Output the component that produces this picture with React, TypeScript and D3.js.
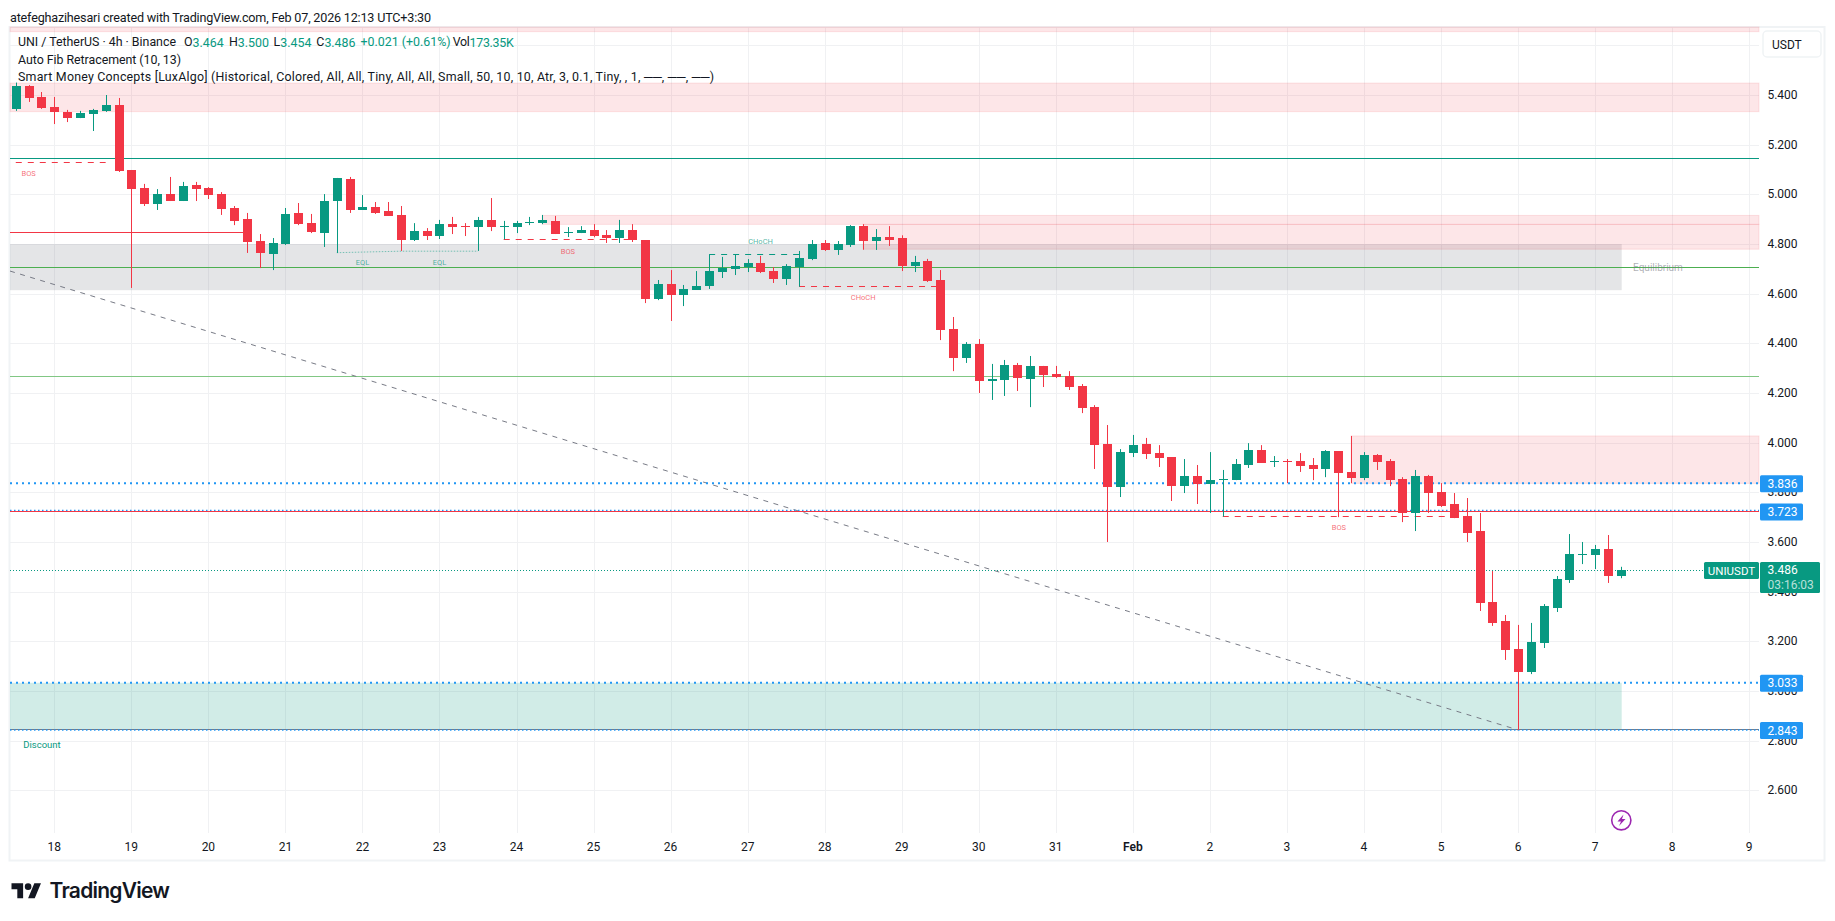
import React from "react";
import * as d3 from "d3";

// ── Data ──────────────────────────────────────────────────────────────────────

// 4h bars, bar 0 is the first one on screen (three bars before Jan 18)
const opens = [
  5.344, 5.436, 5.392, 5.352, 5.332, 5.307, 5.323, 5.336, 5.36, 5.098, 5.025, 4.961, 5.001, 4.973, 5.038, 5.025, 5.001, 4.945, 4.901, 4.812, 4.76,
  4.8, 4.925, 4.884, 4.844, 4.973, 5.062, 4.937, 4.949, 4.933, 4.917, 4.816, 4.852, 4.832, 4.88, 4.872, 4.868, 4.897, 4.868, 4.868, 4.884, 4.884,
  4.893, 4.844, 4.844, 4.856, 4.836, 4.824, 4.856, 4.816, 4.578, 4.639, 4.595, 4.615, 4.631, 4.687, 4.699, 4.707, 4.723, 4.691, 4.659, 4.707, 4.74,
  4.804, 4.776, 4.796, 4.872, 4.812, 4.828, 4.824, 4.711, 4.731, 4.655, 4.458, 4.341, 4.397, 4.248, 4.252, 4.313, 4.256, 4.309, 4.276, 4.268, 4.228,
  4.143, 3.995, 3.821, 3.958, 3.995, 3.958, 3.942, 3.825, 3.866, 3.833, 3.849, 3.849, 3.91, 3.97, 3.922, 3.926, 3.926, 3.91, 3.894, 3.966, 3.882,
  3.858, 3.95, 3.926, 3.853, 3.717, 3.865, 3.801, 3.753, 3.705, 3.644, 3.358, 3.282, 3.169, 3.076, 3.193, 3.334, 3.447, 3.547, 3.547, 3.572, 3.464,
];
const highs = [
  5.45, 5.44, 5.412, 5.392, 5.34, 5.336, 5.344, 5.4, 5.388, 5.098, 5.042, 5.021, 5.07, 5.05, 5.05, 5.029, 5.009, 4.953, 4.925, 4.84, 4.824,
  4.945, 4.965, 4.921, 5.001, 5.066, 5.07, 4.997, 4.969, 4.969, 4.953, 4.884, 4.864, 4.897, 4.909, 4.884, 4.909, 4.985, 4.893, 4.893, 4.909, 4.917,
  4.913, 4.868, 4.872, 4.88, 4.856, 4.897, 4.88, 4.816, 4.655, 4.695, 4.635, 4.691, 4.758, 4.748, 4.758, 4.739, 4.752, 4.707, 4.719, 4.772, 4.816,
  4.816, 4.812, 4.876, 4.88, 4.86, 4.872, 4.835, 4.752, 4.74, 4.695, 4.506, 4.405, 4.417, 4.317, 4.333, 4.321, 4.349, 4.309, 4.309, 4.288, 4.236,
  4.151, 4.071, 3.974, 4.031, 4.019, 3.99, 3.942, 3.934, 3.91, 3.962, 3.89, 3.934, 3.998, 3.99, 3.946, 3.934, 3.958, 3.938, 3.97, 3.966, 4.027,
  3.962, 3.954, 3.934, 3.861, 3.89, 3.87, 3.837, 3.797, 3.777, 3.717, 3.483, 3.306, 3.266, 3.274, 3.35, 3.463, 3.632, 3.6, 3.588, 3.628, 3.5,
];
const lows = [
  5.336, 5.372, 5.344, 5.283, 5.291, 5.307, 5.255, 5.332, 5.09, 4.623, 4.953, 4.937, 4.973, 4.973, 4.973, 4.981, 4.917, 4.876, 4.764, 4.703, 4.695,
  4.796, 4.876, 4.844, 4.788, 4.764, 4.925, 4.937, 4.921, 4.913, 4.772, 4.812, 4.816, 4.82, 4.84, 4.832, 4.772, 4.852, 4.819, 4.844, 4.876, 4.88,
  4.84, 4.828, 4.844, 4.827, 4.804, 4.804, 4.808, 4.562, 4.574, 4.49, 4.55, 4.615, 4.619, 4.663, 4.675, 4.687, 4.683, 4.643, 4.635, 4.628, 4.735,
  4.772, 4.756, 4.788, 4.777, 4.776, 4.792, 4.691, 4.687, 4.647, 4.413, 4.288, 4.321, 4.2, 4.172, 4.188, 4.208, 4.143, 4.224, 4.26, 4.212, 4.119,
  3.894, 3.6, 3.781, 3.942, 3.934, 3.902, 3.765, 3.797, 3.753, 3.717, 3.702, 3.849, 3.898, 3.918, 3.902, 3.837, 3.882, 3.849, 3.861, 3.7, 3.837,
  3.849, 3.89, 3.825, 3.68, 3.644, 3.717, 3.741, 3.696, 3.6, 3.322, 3.262, 3.125, 2.843, 3.068, 3.173, 3.318, 3.435, 3.511, 3.491, 3.435, 3.454,
];
const closes = [
  5.436, 5.388, 5.348, 5.332, 5.307, 5.328, 5.34, 5.36, 5.094, 5.021, 4.961, 5.001, 4.973, 5.034, 5.021, 4.997, 4.941, 4.892, 4.808, 4.764, 4.804,
  4.921, 4.88, 4.848, 4.973, 5.066, 4.937, 4.949, 4.925, 4.913, 4.816, 4.852, 4.832, 4.88, 4.868, 4.868, 4.897, 4.868, 4.872, 4.884, 4.888, 4.897,
  4.84, 4.848, 4.856, 4.832, 4.824, 4.856, 4.816, 4.578, 4.639, 4.595, 4.619, 4.631, 4.691, 4.703, 4.711, 4.723, 4.687, 4.659, 4.711, 4.744, 4.8,
  4.776, 4.8, 4.872, 4.812, 4.828, 4.816, 4.711, 4.727, 4.651, 4.454, 4.341, 4.397, 4.248, 4.256, 4.313, 4.26, 4.309, 4.272, 4.264, 4.224, 4.139,
  3.99, 3.821, 3.962, 3.99, 3.954, 3.938, 3.825, 3.866, 3.833, 3.849, 3.853, 3.914, 3.97, 3.918, 3.926, 3.922, 3.906, 3.894, 3.966, 3.878, 3.858,
  3.95, 3.922, 3.849, 3.717, 3.865, 3.797, 3.745, 3.696, 3.636, 3.354, 3.274, 3.165, 3.076, 3.197, 3.342, 3.451, 3.551, 3.551, 3.572, 3.463, 3.486,
];

const priceTicks = [5.6, 5.4, 5.2, 5.0, 4.8, 4.6, 4.4, 4.2, 4.0, 3.8, 3.6, 3.4, 3.2, 3.0, 2.8, 2.6];
const dayLabels = ["18", "19", "20", "21", "22", "23", "24", "25", "26", "27", "28", "29", "30", "31", "Feb", "2", "3", "4", "5", "6", "7", "8", "9"];

const blueLevels = [3.836, 3.723, 3.033, 2.843];
const lastPrice = 3.486;

// [from bar, top price, bottom price], all run out to the right edge
const supplyZones: [number, number, number][] = [
  [-4, 5.72, 5.655],
  [-4, 5.448, 5.333],
  [38, 4.915, 4.879],
  [63, 4.879, 4.779],
  [101, 4.027, 3.836],
];

// ── Layout ────────────────────────────────────────────────────────────────────

const WIDTH = 1835;
const HEIGHT = 921;
const LEFT = 10;
const RIGHT = 1759;
const TOP = 27;
const BOTTOM = 833;
const FONT = "Roboto, sans-serif";
const UP = "#089981";
const DOWN = "#F23645";
const BLUE = "#2196F3";
const GRID = "#f0f1f3";
const INK = "#131722";

const x = d3.scaleLinear().domain([0, 132]).range([54.3, 54.3 + 132 * 12.84]);
const y = d3.scaleLinear().domain([5.4, 2.6]).range([95, 790.3]);
const px = (v: number) => Math.round(v) + 0.5;

const bars = opens.map((open, i) => ({
  bar: i - 3,
  open,
  high: highs[i],
  low: lows[i],
  close: closes[i],
}));

function HLine({ price, from = LEFT, to = RIGHT, color, width = 1, dash }: { price: number; from?: number; to?: number; color: string; width?: number; dash?: string }) {
  return <line x1={from} x2={to} y1={px(y(price))} y2={px(y(price))} stroke={color} strokeWidth={width} strokeDasharray={dash} />;
}

function Tag({ bar, price, text, color }: { bar: number; price: number; text: string; color: string }) {
  return (
    <text x={x(bar)} y={y(price)} fontSize={7.5} textAnchor="middle" dominantBaseline="central" fill={color} fillOpacity={0.72} fontFamily={FONT}>
      {text}
    </text>
  );
}

export default function App() {
  const axisTicks = dayLabels.map((label, i) => ({ label, bar: i * 6 }));
  const eql = d3.line<[number, number]>().x((d) => x(d[0])).y((d) => y(d[1]));

  return (
    <svg width={WIDTH} height={HEIGHT} style={{ position: "absolute", left: 0, top: 0, display: "block", background: "#fff" }}>
      <text x={10} y={21.5} fontSize={12.6} fill={INK} fontFamily={FONT} textLength={421}>
        atefeghazihesari created with TradingView.com, Feb 07, 2026 12:13 UTC+3:30
      </text>

      <rect x={9.5} y={TOP} width={1815} height={833.5} fill="none" stroke="#f0f3f5" strokeWidth={2} />

      {/* Grid */}
      {priceTicks.map((t) => (
        <line key={t} x1={LEFT} x2={RIGHT} y1={px(y(t))} y2={px(y(t))} stroke={GRID} />
      ))}
      {axisTicks.map((t) => (
        <line key={t.label} x1={px(x(t.bar))} x2={px(x(t.bar))} y1={TOP} y2={BOTTOM} stroke={GRID} />
      ))}

      {/* Zones */}
      <rect x={LEFT} width={1621.7 - LEFT} y={y(4.8)} height={y(4.614) - y(4.8)} fill="#787B86" fillOpacity={0.2} />
      <rect x={LEFT} width={1621.7 - LEFT} y={y(3.033)} height={y(2.843) - y(3.033)} fill={UP} fillOpacity={0.19} />
      {supplyZones.map(([from, top, bottom]) => {
        const left = Math.max(LEFT, x(from));
        const y0 = Math.max(TOP, y(top));
        return (
          <rect key={`${from}-${top}`} x={left} width={RIGHT - left} y={y0} height={y(bottom) - y0} fill={DOWN} fillOpacity={0.125} stroke={DOWN} strokeOpacity={0.12} />
        );
      })}

      {/* Structure lines */}
      <HLine price={5.145} color={UP} />
      <HLine price={4.847} to={x(14.7)} color={DOWN} />
      <HLine price={4.706} color="#4CAF50" />
      <HLine price={4.267} color="#81C784" />
      <HLine price={5.129} from={x(-3)} to={x(4)} color={DOWN} dash="6 6" />
      <HLine price={4.819} from={x(35)} to={x(45)} color={DOWN} dash="6 6" />
      <HLine price={4.758} from={x(51)} to={x(58)} color={UP} dash="6 6" />
      <HLine price={4.63} from={x(58)} to={x(69)} color={DOWN} dash="6 6" />
      <HLine price={3.703} from={x(91)} to={x(108.7)} color={DOWN} dash="6 6" />
      <path
        d={eql([[22, 4.765], [27, 4.771], [33, 4.771]]) ?? ""}
        fill="none"
        stroke={UP}
        strokeOpacity={0.5}
        strokeDasharray="1.5 1.5"
      />

      {/* Fib trend line */}
      <line x1={x(-3.45)} y1={y(4.691)} x2={x(114)} y2={y(2.843)} stroke="#787B86" strokeDasharray="5 5.5" />

      {/* Price levels */}
      <HLine price={2.845} color="#787B86" />
      {blueLevels.map((level, i) => (
        <line
          key={level}
          x1={LEFT}
          x2={RIGHT}
          y1={y(level) - (i === 1 ? 1 : 0)}
          y2={y(level) - (i === 1 ? 1 : 0)}
          stroke={BLUE}
          strokeWidth={i % 2 === 0 ? 2 : 1.5}
          strokeDasharray={i % 2 === 0 ? "2 4" : "1.5 2.5"}
        />
      ))}
      <HLine price={3.723} color={DOWN} />
      <line x1={LEFT} x2={1704} y1={px(y(lastPrice))} y2={px(y(lastPrice))} stroke={UP} strokeDasharray="1 2" />

      {/* Candles */}
      {bars.map((d) => {
        const color = d.close >= d.open ? UP : DOWN;
        const top = Math.round(y(Math.max(d.open, d.close)));
        const bottom = Math.round(y(Math.min(d.open, d.close)));
        return (
          <g key={d.bar}>
            <line x1={px(x(d.bar))} x2={px(x(d.bar))} y1={y(d.high)} y2={y(d.low)} stroke={color} />
            <rect x={Math.round(x(d.bar)) - 4} width={9} y={top} height={Math.max(1, bottom - top)} fill={color} />
          </g>
        );
      })}

      {/* Smart money tags */}
      <Tag bar={-2} price={5.082} text="BOS" color={DOWN} />
      <Tag bar={24} price={4.725} text="EQL" color={UP} />
      <Tag bar={30} price={4.725} text="EQL" color={UP} />
      <Tag bar={40} price={4.77} text="BOS" color={DOWN} />
      <Tag bar={55} price={4.809} text="CHoCH" color={UP} />
      <Tag bar={63} price={4.585} text="CHoCH" color={DOWN} />
      <Tag bar={100.05} price={3.659} text="BOS" color={DOWN} />
      <text x={42} y={744} fontSize={9.5} textAnchor="middle" dominantBaseline="central" fill={UP} fontFamily={FONT}>Discount</text>
      <text x={1658} y={267} fontSize={10} textAnchor="middle" dominantBaseline="central" fill="#787B86" fillOpacity={0.6} fontFamily={FONT}>Equilibrium</text>

      {/* Legend */}
      <g fontFamily={FONT} fontSize={12.4} dominantBaseline="central" fill={INK}>
        <text x={18} y={41.5} textLength={158}>UNI / TetherUS · 4h · Binance</text>
        <text x={184} y={41.5}>O<tspan fill={UP}>3.464</tspan></text>
        <text x={229} y={41.5}>H<tspan fill={UP}>3.500</tspan></text>
        <text x={273.6} y={41.5}>L<tspan fill={UP}>3.454</tspan></text>
        <text x={316.3} y={41.5}>C<tspan fill={UP}>3.486</tspan></text>
        <text x={360.6} y={41.5} fill={UP}>+0.021 (+0.61%)</text>
        <text x={452.7} y={41.5} textLength={61}>Vol<tspan fill={UP}>173.35K</tspan></text>
        <text x={18} y={59} textLength={163}>Auto Fib Retracement (10, 13)</text>
        <text x={18} y={76} textLength={696}>Smart Money Concepts [LuxAlgo] (Historical, Colored, All, All, Tiny, All, All, Small, 50, 10, 10, Atr, 3, 0.1, Tiny, , 1, ──, ──, ──)</text>
      </g>

      {/* Price axis, the last-price and level tags sit on top of some labels just as in the terminal */}
      <g fontFamily={FONT} fontSize={12} fill={INK}>
        {priceTicks.filter((t) => t !== 5.6).map((t) => (
          <text key={t} x={1782.5} y={y(t)} textAnchor="middle" dominantBaseline="central">{t.toFixed(3)}</text>
        ))}
      </g>
      <rect x={1763} y={31} width={58} height={26} rx={4} fill="#fff" stroke="#f0f3f5" strokeWidth={1.5} />
      <text x={1772} y={44.5} fontSize={12} dominantBaseline="central" fill={INK} fontFamily={FONT}>USDT</text>

      {blueLevels.map((level) => (
        <g key={level}>
          <rect x={1760} y={y(level) - 8} width={43} height={17} rx={1.5} fill={BLUE} />
          <text x={1782.5} y={y(level) + 0.7} fontSize={12} textAnchor="middle" dominantBaseline="central" fill="#fff" fontFamily={FONT}>{level.toFixed(3)}</text>
        </g>
      ))}
      <rect x={1704} y={562} width={55} height={17} rx={1.5} fill={UP} />
      <text x={1731.5} y={570.5} fontSize={11.5} textAnchor="middle" dominantBaseline="central" fill="#fff" fontFamily={FONT}>UNIUSDT</text>
      <rect x={1760} y={562} width={60} height={31} rx={1.5} fill={UP} />
      <text x={1767.5} y={y(lastPrice)} fontSize={12} dominantBaseline="central" fill="#fff" fontFamily={FONT}>{lastPrice.toFixed(3)}</text>
      <text x={1767.5} y={584.5} fontSize={12} dominantBaseline="central" fill="#fff" fillOpacity={0.72} fontFamily={FONT}>03:16:03</text>

      {/* Time axis */}
      <g fontFamily={FONT} fontSize={12} fill={INK} textAnchor="middle">
        {axisTicks.map((t) => (
          <text key={t.label} x={x(t.bar)} y={847} dominantBaseline="central" fontWeight={t.label === "Feb" ? 600 : 400}>{t.label}</text>
        ))}
      </g>

      {/* Realtime badge */}
      <circle cx={1621.3} cy={820.3} r={9.6} fill="#fff" stroke="#9C27B0" strokeWidth={1.6} />
      <path d="M1623.5 814.5 L1617.5 821.5 L1621 821.5 L1619 826 L1625.5 819 L1622 819 Z" fill="#9C27B0" />

      {/* Logo */}
      <g transform="translate(11.5,880) scale(0.83)" fill="#131722">
        <path d="M14 22H7V11H0V4h14v18zM28 22h-8l7.5-18h8L28 22z" />
        <circle cx={20} cy={8} r={4} />
      </g>
      <text x={49.5} y={898} fontSize={21} fontWeight={600} fill="#131722" fontFamily="Inter, sans-serif" textLength={120.5}>TradingView</text>
    </svg>
  );
}
